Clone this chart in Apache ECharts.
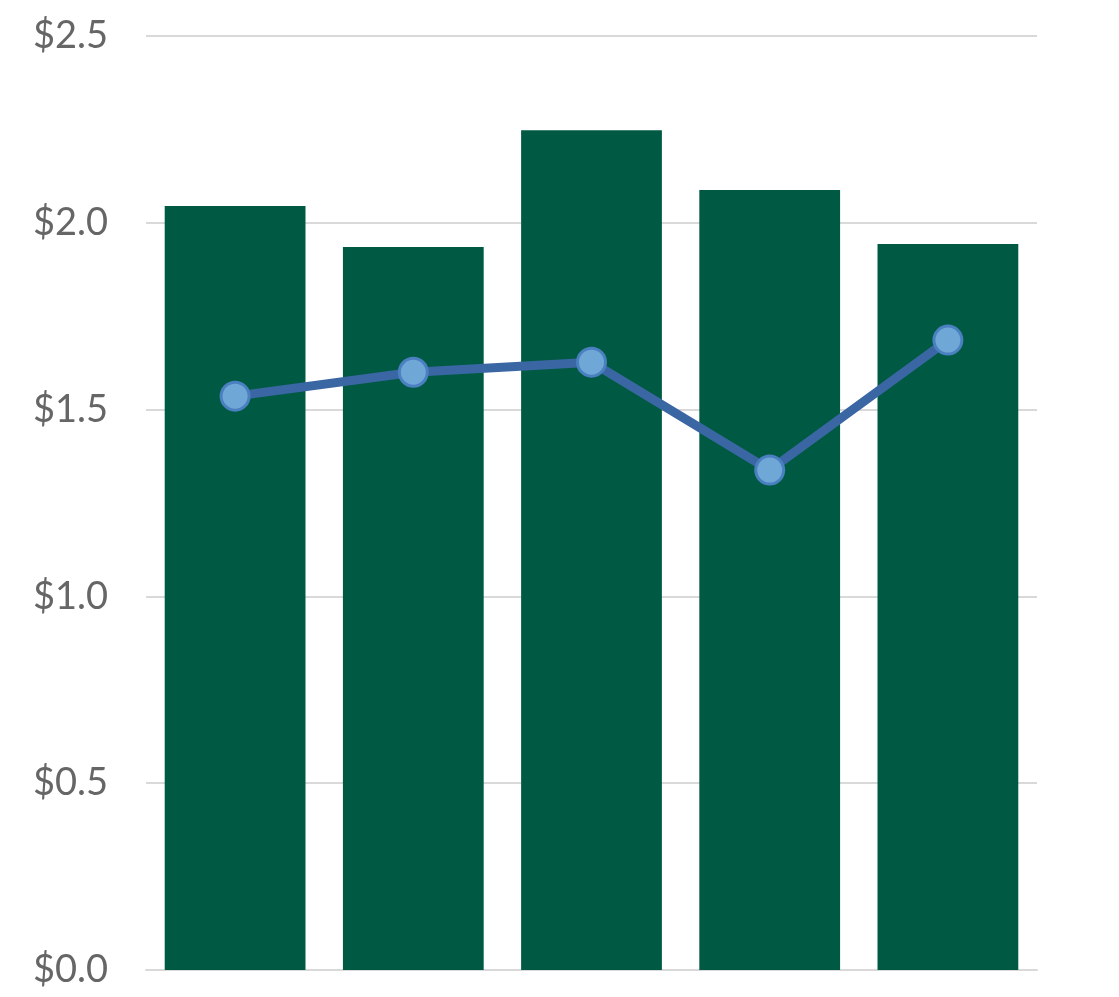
<!DOCTYPE html>
<html>
<head>
<meta charset="utf-8">
<script src="https://cdn.jsdelivr.net/npm/echarts@6/dist/echarts.min.js"></script>
<style>
html,body{margin:0;padding:0;background:#fff;}
#chart{width:1119px;height:997px;}
</style>
</head>
<body>
<div id="chart"></div>
<script>
const categories = ['1', '2', '3', '4', '5'];
const barValues = [2.045, 1.935, 2.248, 2.088, 1.943];
const lineValues = [1.536, 1.600, 1.627, 1.338, 1.686];
const yTicks = { min: 0, max: 2.5, interval: 0.5 };

const chart = echarts.init(document.getElementById('chart'), null, { renderer: 'canvas' });
chart.setOption({
  animation: false,
  backgroundColor: '#ffffff',
  grid: { left: 146, right: 82, top: 36, bottom: 27, containLabel: false },
  xAxis: {
    type: 'category',
    data: categories,
    axisLine: { show: true, lineStyle: { color: '#d9d9d9', width: 2 } },
    axisTick: { show: false },
    axisLabel: { show: false }
  },
  yAxis: {
    type: 'value',
    min: yTicks.min,
    max: yTicks.max,
    interval: yTicks.interval,
    axisLine: { show: false },
    axisTick: { show: false },
    splitLine: { show: true, lineStyle: { color: '#d9d9d9', width: 2 } },
    axisLabel: {
      margin: 38,
      color: '#666666',
      fontFamily: 'Lato',
      fontSize: 38,
      formatter: v => '$' + v.toFixed(1)
    }
  },
  series: [
    {
      type: 'bar',
      data: barValues,
      barCategoryGap: '21%',
      itemStyle: { color: '#005a43' },
      z: 2
    },
    {
      type: 'line',
      data: lineValues,
      symbol: 'circle',
      symbolSize: 28,
      lineStyle: { color: '#3a67a3', width: 9 },
      itemStyle: { color: '#6fa8d6', borderColor: '#4a7fc0', borderWidth: 3 },
      z: 3
    }
  ]
});
</script>
</body>
</html>
